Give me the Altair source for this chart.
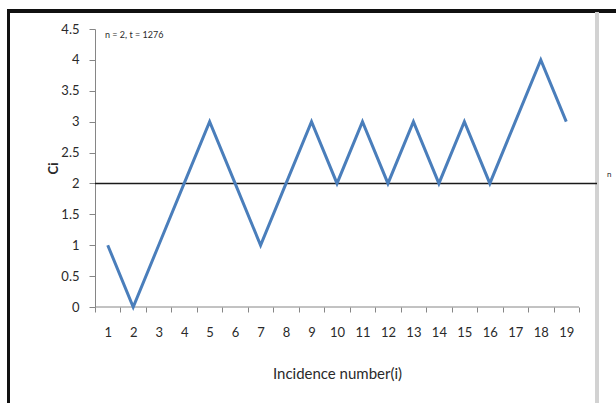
import altair as alt
import pandas as pd

# Series: control index Ci for each incidence number i
incidence = list(range(1, 20))
ci = [1, 0, 1, 2, 3, 2, 1, 2, 3, 2, 3, 2, 3, 2, 3, 2, 3, 4, 3]

# Threshold level and annotation
threshold = 2
threshold_label = "n"
note = "n = 2, t = 1276"

# Axis ticks
y_ticks = [0, 0.5, 1, 1.5, 2, 2.5, 3, 3.5, 4, 4.5]
x_ticks = [k / 2 for k in range(1, 40)]  # category centres and boundaries

# Layout (pixels)
PLOT_W, PLOT_H = 502, 278
PAD_L, PAD_T, PAD_R, PAD_B = 95, 29, 19, 96
AXIS_W = 484                      # width occupied by the 19 categories
X_MAX = 0.5 + 19 * PLOT_W / AXIS_W

FONT = "Lato"
TEXT = "#2a2a2a"
AXIS_GREY = "#868686"
BLUE = "#4A7EBB"

df = pd.DataFrame({"i": incidence, "ci": ci})
x_scale = alt.Scale(domain=[0.5, X_MAX], nice=False, zero=False)
y_scale = alt.Scale(domain=[0, 4.5], nice=False, zero=False)

x_axis = alt.Axis(
    values=x_ticks,
    labelExpr="datum.value % 1 === 0 ? format(datum.value, 'd') : ''",
    labelOverlap=False,
    labelFlush=False,
    labelFont=FONT,
    labelFontSize=13,
    labelColor=TEXT,
    labelPadding=14,
    tickSize=5,
    tickColor=AXIS_GREY,
    tickOpacity={"condition": {"test": "datum.value % 1 === 0", "value": 0}, "value": 1},
    domain=False,
    grid=False,
    title="Incidence number(i)",
    titleFont=FONT,
    titleFontSize=15,
    titleFontWeight="normal",
    titleColor=TEXT,
    titleX=AXIS_W / 2,
    titleY=66,
    titleAlign="center",
    titleBaseline="middle",
)

y_axis = alt.Axis(
    values=y_ticks,
    format=".1~f",
    labelFont=FONT,
    labelFontSize=13,
    labelColor=TEXT,
    labelPadding=10,
    labelOverlap=False,
    labelFlush=False,
    tickSize=6,
    tickColor=AXIS_GREY,
    domainColor=AXIS_GREY,
    grid=False,
    title="Ci",
    titleFont=FONT,
    titleFontSize=13,
    titleFontWeight="bold",
    titleColor=TEXT,
    titleX=-42,
    titleY=PLOT_H / 2,
    titleAngle=-90,
    titleAlign="center",
    titleBaseline="middle",
)


def xq(field):
    return alt.X(field, type="quantitative", scale=x_scale, axis=x_axis)


def yq(field):
    return alt.Y(field, type="quantitative", scale=y_scale, axis=y_axis)


# Chart frame: heavy top and left border, light right divider
frame_top = alt.Chart(df).mark_rule(color="#111111", strokeWidth=3).encode(
    x=alt.value(-88), x2=alt.value(PLOT_W + PAD_R), y=alt.value(-18)
)
frame_left = alt.Chart(df).mark_rule(color="#111111", strokeWidth=3).encode(
    x=alt.value(-86.5), y=alt.value(-19), y2=alt.value(PLOT_H + PAD_B)
)
frame_right = alt.Chart(df).mark_rule(color="#d2d2d2", strokeWidth=3).encode(
    x=alt.value(PLOT_W), y=alt.value(-17), y2=alt.value(PLOT_H + PAD_B)
)

# Category axis line, spanning only the 19 categories
axis_df = pd.DataFrame({"x": [0.5], "x2": [19.5], "y": [0]})
axis_line = alt.Chart(axis_df).mark_rule(color=AXIS_GREY, strokeWidth=1).encode(
    x=xq("x"), x2="x2:Q", y=yq("y")
)

# Threshold line at Ci = n
thr_df = pd.DataFrame({"x": [0.5], "x2": [X_MAX], "y": [threshold], "label": [threshold_label]})
thr_line = alt.Chart(thr_df).mark_rule(color="#1a1a1a", strokeWidth=1.5).encode(
    x=xq("x"), x2="x2:Q", y=yq("y")
)
thr_text = alt.Chart(thr_df).mark_text(
    align="left", baseline="middle", dx=10, dy=-8, fontSize=8, font=FONT, color=TEXT
).encode(x=xq("x2"), y=yq("y"), text="label:N")

# Ci series
line = alt.Chart(df).mark_line(color=BLUE, strokeWidth=3).encode(
    x=xq("i"), y=yq("ci")
)

note_df = pd.DataFrame({"t": [note]})
note_text = alt.Chart(note_df).mark_text(
    align="left", baseline="middle", fontSize=9, font=FONT, color=TEXT
).encode(x=alt.value(10), y=alt.value(6), text="t:N")

chart = (
    alt.layer(frame_top, frame_left, frame_right, axis_line, thr_line, thr_text, line, note_text)
    .properties(
        width=PLOT_W,
        height=PLOT_H,
        autosize=alt.AutoSizeParams(type="none"),
        padding={"left": PAD_L, "top": PAD_T, "right": PAD_R, "bottom": PAD_B},
        background="white",
    )
    .configure_view(stroke=None)
)

chart.save("out.html", embed_options={"renderer": "svg", "actions": False})
